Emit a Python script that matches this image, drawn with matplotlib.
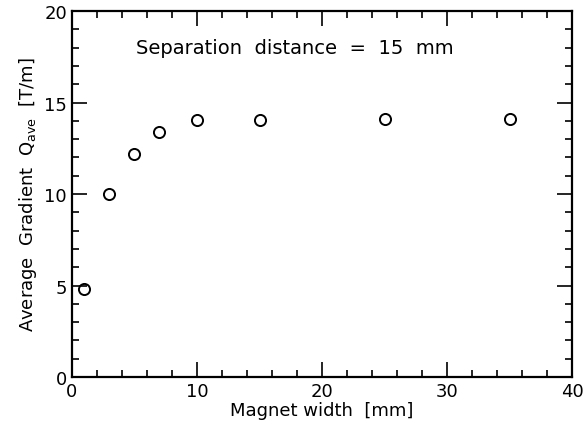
import numpy as np
import matplotlib.pyplot as plt
from matplotlib.ticker import MultipleLocator

# magnet width [mm] vs average gradient [T/m]
width = [1, 3, 5, 7, 10, 15, 25, 35]
gradient = [4.8, 10.0, 12.2, 13.4, 14.05, 14.05, 14.1, 14.1]

fig = plt.figure(figsize=(5.84, 4.31), dpi=100)
ax = fig.add_axes([0.123, 0.123, 0.857, 0.849])

ax.plot(width, gradient, 'o', mfc='none', mec='black', ms=8, mew=1.4)

ax.set_xlim(0, 40)
ax.set_ylim(0, 20)
ax.xaxis.set_major_locator(MultipleLocator(10))
ax.xaxis.set_minor_locator(MultipleLocator(2))
ax.yaxis.set_major_locator(MultipleLocator(5))
ax.yaxis.set_minor_locator(MultipleLocator(1))
ax.tick_params(which='both', direction='in', top=True, right=True, labelsize=13, width=1.2)
ax.tick_params(which='major', length=11)
ax.tick_params(which='minor', length=5)
for s in ax.spines.values():
    s.set_linewidth(1.6)

ax.set_xlabel('Magnet width  [mm]', fontsize=13, labelpad=1)
ax.set_ylabel(r'Average  Gradient  Q$_{\rm ave}$  [T/m]', fontsize=13, labelpad=4)
ax.text(5.1, 18.0, 'Separation  distance  =  15  mm', fontsize=14, va='center')

fig.savefig('out.png', dpi=100)
